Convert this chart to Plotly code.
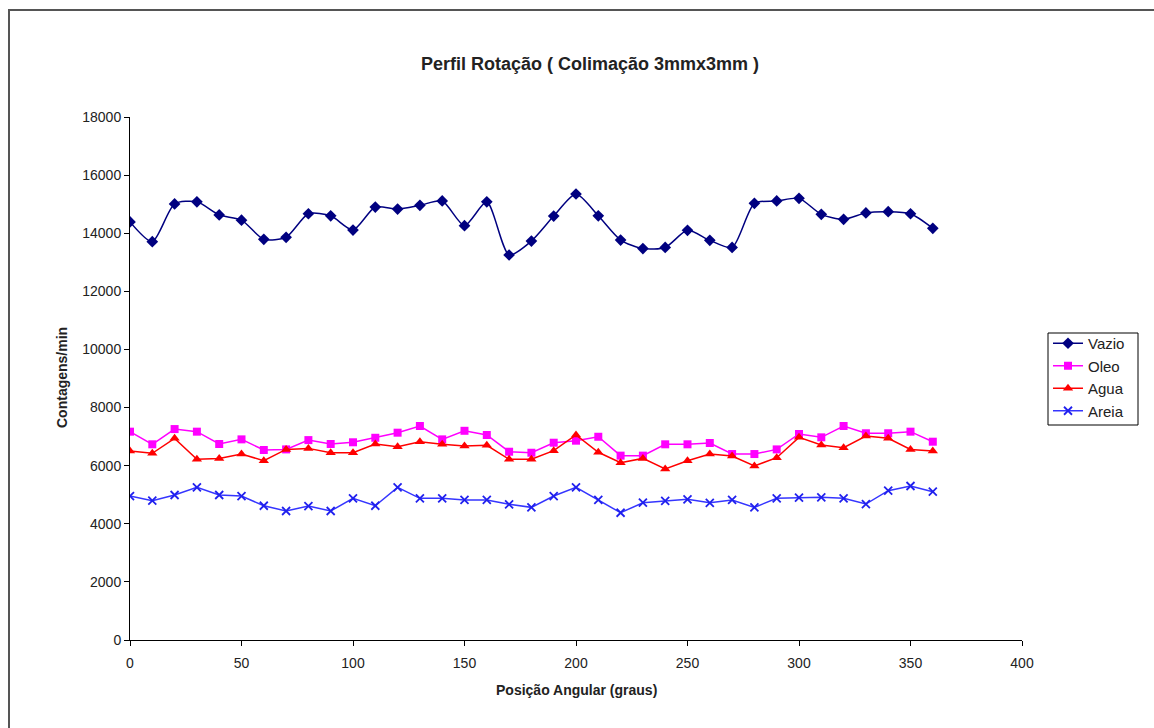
import plotly.graph_objects as go

# Angular positions (degrees)
angles = list(range(0, 361, 10))

# Counts per minute for each sample
vazio = [14390, 13710, 15010, 15080, 14630, 14450, 13790, 13860, 14670, 14600,
         14110, 14900, 14830, 14960, 15110, 14260, 15080, 13250, 13730, 14590,
         15350, 14600, 13765, 13470, 13510, 14100, 13755, 13510, 15030, 15110,
         15200, 14650, 14480, 14700, 14740, 14670, 14170]
oleo = [7170, 6735, 7260, 7170, 6745, 6905, 6540, 6560, 6880, 6745,
        6805, 6960, 7135, 7365, 6905, 7200, 7055, 6480, 6445, 6790,
        6860, 6995, 6345, 6345, 6735, 6735, 6780, 6400, 6400, 6560,
        7090, 6975, 7365, 7115, 7115, 7170, 6825]
agua = [6505, 6425, 6940, 6220, 6250, 6400, 6170, 6560, 6595, 6445,
        6445, 6745, 6650, 6825, 6735, 6675, 6700, 6220, 6220, 6515,
        7055, 6460, 6100, 6250, 5885, 6170, 6400, 6330, 5990, 6275,
        6975, 6710, 6620, 7020, 6940, 6560, 6505]
areia = [4955, 4795, 4990, 5255, 4990, 4955, 4620, 4440, 4610, 4440,
         4875, 4620, 5255, 4875, 4875, 4820, 4820, 4670, 4565, 4955,
         5255, 4820, 4380, 4725, 4785, 4840, 4720, 4820, 4565, 4875,
         4900, 4910, 4875, 4680, 5140, 5300, 5105]

FONT = "Liberation Sans, Arial, sans-serif"
TXT = "#222222"
W, H = 1154, 728
L, R, T, B = 130, 132, 117, 88

fig = go.Figure()
fig.add_trace(go.Scatter(
    x=angles, y=vazio, name="Vazio", mode="lines+markers",
    line=dict(color="#000080", width=1.5, shape="spline", smoothing=0.7),
    marker=dict(symbol="diamond", size=9, color="#000080"),
))
fig.add_trace(go.Scatter(
    x=angles, y=oleo, name="Oleo", mode="lines+markers",
    line=dict(color="#ff00ff", width=1.5),
    marker=dict(symbol="square", size=8, color="#ff00ff"),
))
fig.add_trace(go.Scatter(
    x=angles, y=agua, name="Agua", mode="lines+markers",
    line=dict(color="#ff0000", width=1.5),
    marker=dict(symbol="triangle-up", size=9, color="#ff0000"),
))
fig.add_trace(go.Scatter(
    x=angles, y=areia, name="Areia", mode="lines+markers",
    line=dict(color="#3535ff", width=1.5),
    marker=dict(symbol="x-thin", size=8, color="#2020ee",
                line=dict(width=1.8, color="#2020ee")),
))

def px_x(p):
    return (p - L) / (W - L - R)

def px_y(p):
    return (H - B - p) / (H - T - B)

fig.update_layout(
    width=W, height=H,
    margin=dict(l=L, r=R, t=T, b=B),
    paper_bgcolor="white", plot_bgcolor="white",
    font=dict(family=FONT, size=14, color=TXT),
    showlegend=True,
    title=dict(
        text="<b>Perfil Rotação ( Colimação 3mmx3mm )</b>",
        font=dict(family=FONT, size=18, color=TXT),
        xref="paper", x=px_x(590), xanchor="center",
        yref="container", y=1 - 64 / H, yanchor="middle",
    ),
    xaxis=dict(
        range=[0, 400], tickvals=list(range(0, 401, 50)),
        showgrid=False, zeroline=False,
        showline=True, linecolor="black", linewidth=1,
        ticks="outside", ticklen=5, tickcolor="black",
        ticklabelstandoff=5,
        tickfont=dict(size=14, color=TXT),
    ),
    yaxis=dict(
        range=[0, 18000], tickvals=list(range(0, 18001, 2000)),
        tickformat="d",
        showgrid=False, zeroline=False,
        showline=True, linecolor="black", linewidth=1,
        ticks="outside", ticklen=5, tickcolor="black",
        tickfont=dict(size=14, color=TXT),
    ),
    legend=dict(
        x=px_x(1048), y=px_y(327), xanchor="left", yanchor="top",
        borderwidth=0, bgcolor="rgba(0,0,0,0)",
        font=dict(size=15, color=TXT),
        itemwidth=30, tracegroupgap=0,
    ),
    annotations=[
        dict(text="<b>Posição Angular (graus)</b>", xref="paper", yref="paper",
             x=px_x(576), y=px_y(690), showarrow=False,
             font=dict(size=14, color=TXT),
             xanchor="center", yanchor="middle"),
        dict(text="<b>Contagens/min</b>", xref="paper", yref="paper",
             x=px_x(62), y=px_y(378), showarrow=False, textangle=-90,
             font=dict(size=14, color=TXT),
             xanchor="center", yanchor="middle"),
    ],
    shapes=[
        # outer chart frame
        dict(type="rect", xref="paper", yref="paper",
             x0=px_x(9), x1=px_x(1170), y0=px_y(10), y1=px_y(745),
             line=dict(color="#555555", width=2), fillcolor="rgba(0,0,0,0)"),
        # legend box
        dict(type="rect", xref="paper", yref="paper",
             x0=px_x(1048), x1=px_x(1138), y0=px_y(333), y1=px_y(425),
             line=dict(color="black", width=1), fillcolor="white"),
    ],
)

fig.write_html("out.html")
